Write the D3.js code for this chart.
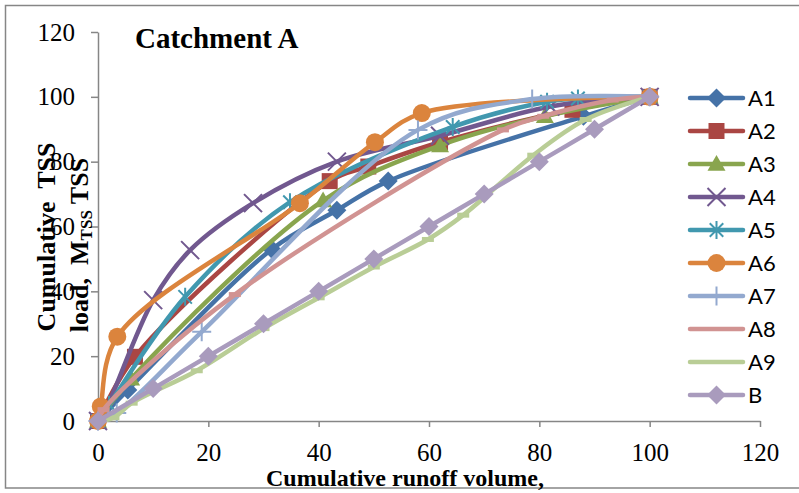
<!DOCTYPE html>
<html>
<head>
<meta charset="utf-8">
<script src="https://cdn.jsdelivr.net/npm/d3@7"></script>
<style>
  body { margin: 0; background: #fff; }
  svg { display: block; }
</style>
</head>
<body>
<svg id="chart" width="799" height="493"></svg>
<script>
// series names, in legend order
var seriesNames = ["A1", "A2", "A3", "A4", "A5", "A6", "A7", "A8", "A9", "B"];

// [cumulative runoff volume %, cumulative TSS load %]
var a1 = [[0, 0], [5.4, 9.6], [31.5, 53], [43.3, 65], [52.6, 74], [88, 94], [100, 100]];
var a2 = [[0, 0], [6.7, 19.8], [42, 74], [49, 78.5], [62, 86], [86, 96], [100, 100]];
var a3 = [[0, 0], [6, 13], [40.8, 68], [62, 85], [81, 94], [100, 100]];
var a4 = [[0, 0], [1.5, 4], [10, 37.3], [16.7, 52.7], [28.1, 67.2], [43.3, 80], [62, 88], [82, 97], [100, 100]];
var a5 = [[0, 0], [2, 5], [15.8, 38.3], [34.8, 67.5], [64.3, 90.7], [81.4, 98.5], [87, 99.5], [100, 100]];
var a6 = [[0, 0], [0.5, 4.5], [3.5, 26], [36.6, 67.2], [50.2, 86], [58.7, 95], [100, 100]];
var a7 = [[0, 0], [3.4, 2.5], [18.8, 27.5], [58, 89.8], [78.7, 99.3], [100, 100]];
var a8 = [[0, 0], [1, 3.5], [24.8, 39], [73.4, 89.8], [80.7, 94], [93.3, 99], [100, 100]];
var a9 = [[0, 0], [2.8, 1], [6.1, 5.5], [17.9, 15.5], [30, 28.5], [40, 38], [50, 47.5], [59.8, 56], [66.2, 63.5], [78.9, 82], [88.4, 93], [100, 100]];
var b = [[0, 0], [10, 10], [20, 20], [30, 30], [40, 40], [50, 50], [60, 60], [70, 70], [80, 80], [90, 90], [100, 100]];

var xTicks = [0, 20, 40, 60, 80, 100, 120];
var yTicks = [0, 20, 40, 60, 80, 100, 120];

var seriesData = [a1, a2, a3, a4, a5, a6, a7, a8, a9, b];
var colors = ["#4572A7", "#AA4643", "#89A54E", "#71588F", "#4198AF", "#DB843D", "#93A9CF", "#D19392", "#B9CD96", "#A99BBD"];
var markers = ["diamond", "square", "triangle", "x", "star", "circle", "plus", "dash", "dash", "diamond"];

var svg = d3.select("#chart");
var serif = "'Liberation Serif', 'Times New Roman', serif";

// outer frame
svg.append("rect")
    .attr("x", 5.5).attr("y", 5.5)
    .attr("width", 800).attr("height", 482.5)
    .attr("fill", "none")
    .attr("stroke", "#868686")
    .attr("stroke-width", 1.5);

var x = d3.scaleLinear().domain([0, 120]).range([98, 760]);
var y = d3.scaleLinear().domain([0, 120]).range([421, 32]);

// axes
var xAxis = svg.append("g")
    .attr("transform", "translate(0," + y(0) + ")")
    .call(d3.axisBottom(x).tickValues(xTicks).tickSize(6).tickSizeOuter(0));
xAxis.selectAll("text").attr("dy", null).attr("y", 40);

var yAxis = svg.append("g")
    .attr("transform", "translate(" + x(0) + ",0)")
    .call(d3.axisLeft(y).tickValues(yTicks).tickSize(7).tickPadding(16).tickSizeOuter(0));

[xAxis, yAxis].forEach(function (ax) {
    ax.select(".domain").attr("stroke", "#868686").attr("stroke-width", 1.5);
    ax.selectAll(".tick line").attr("stroke", "#868686").attr("stroke-width", 1.5);
    ax.selectAll("text")
        .attr("fill", "#000")
        .style("font-family", serif)
        .style("font-size", "25px");
});

// marker shapes
function markerPath(type, r) {
    switch (type) {
        case "diamond": return "M0," + (-r) + "L" + r + ",0L0," + r + "L" + (-r) + ",0Z";
        case "square": return "M" + (-r) + "," + (-r) + "H" + r + "V" + r + "H" + (-r) + "Z";
        case "triangle": return "M0," + (-r) + "L" + r + "," + (r * 0.75) + "L" + (-r) + "," + (r * 0.75) + "Z";
        case "x": return "M" + (-r) + "," + (-r) + "L" + r + "," + r + "M" + (-r) + "," + r + "L" + r + "," + (-r);
        case "star": return "M" + (-r * 0.75) + "," + (-r * 0.75) + "L" + (r * 0.75) + "," + (r * 0.75) +
            "M" + (-r * 0.75) + "," + (r * 0.75) + "L" + (r * 0.75) + "," + (-r * 0.75) + "M0," + (-r) + "V" + r;
        case "plus": return "M" + (-r) + ",0H" + r + "M0," + (-r) + "V" + r;
        case "dash": return "M-6,-2.5H6V2.5H-6Z";
    }
    return "";
}
var markerSize = { diamond: 9.5, square: 8, triangle: 9, x: 9, star: 9, plus: 9.5, dash: 6 };

function drawMarker(g, type, color, cx, cy) {
    if (type == "circle") {
        g.append("circle").attr("cx", cx).attr("cy", cy).attr("r", 9).attr("fill", color);
        return;
    }
    var stroked = (type == "x" || type == "star" || type == "plus");
    g.append("path")
        .attr("d", markerPath(type, markerSize[type]))
        .attr("transform", "translate(" + cx + "," + cy + ")")
        .attr("fill", stroked ? "none" : color)
        .attr("stroke", stroked ? color : "none")
        .attr("stroke-width", 2);
}

var line = d3.line()
    .x(function (d) { return x(d[0]); })
    .y(function (d) { return y(d[1]); })
    .curve(d3.curveCatmullRom.alpha(0.5));

var plot = svg.append("g");
seriesData.forEach(function (data, i) {
    var g = plot.append("g").attr("class", "series");
    g.append("path")
        .datum(data)
        .attr("d", line)
        .attr("fill", "none")
        .attr("stroke", colors[i])
        .attr("stroke-width", 4.5)
        .attr("stroke-linecap", "round")
        .attr("stroke-linejoin", "round");
    data.forEach(function (d) {
        drawMarker(g, markers[i], colors[i], x(d[0]), y(d[1]));
    });
});

// title
svg.append("text")
    .attr("x", 135).attr("y", 48)
    .style("font-family", serif)
    .style("font-size", "29px")
    .style("font-weight", "bold")
    .text("Catchment A");

// y axis title, two lines
svg.append("text")
    .attr("transform", "translate(55,237) rotate(-90)")
    .attr("text-anchor", "middle")
    .style("font-family", serif)
    .style("font-size", "26px")
    .style("font-weight", "bold")
    .style("white-space", "pre")
    .text("Cumulative  TSS");

var yt2 = svg.append("text")
    .attr("transform", "translate(88,245) rotate(-90)")
    .attr("text-anchor", "middle")
    .style("font-family", serif)
    .style("font-size", "26px")
    .style("font-weight", "bold")
    .style("white-space", "pre");
yt2.append("tspan").text("load,  M");
yt2.append("tspan").attr("dy", 4).style("font-size", "17px").text("TSS");
yt2.append("tspan").attr("dy", -4).text(" TSS");

// x axis title, sitting on the bottom of the frame
svg.append("text")
    .attr("x", 405).attr("y", 486)
    .attr("text-anchor", "middle")
    .style("font-family", serif)
    .style("font-size", "24px")
    .style("font-weight", "bold")
    .text("Cumulative runoff volume,");

// legend
var legend = svg.append("g")
    .selectAll("g")
    .data(seriesNames)
    .enter().append("g")
    .attr("transform", function (d, i) { return "translate(690," + (98 + i * 33) + ")"; });

legend.each(function (d, i) {
    var g = d3.select(this);
    g.append("line")
        .attr("x1", 0).attr("x2", 53)
        .attr("stroke", colors[i])
        .attr("stroke-width", 4.5)
        .attr("stroke-linecap", "round");
    if (markers[i] != "dash") drawMarker(g, markers[i], colors[i], 26.5, 0);
    g.append("text")
        .attr("x", 58).attr("dy", "0.36em")
        .style("font-family", "Lato, 'Open Sans', sans-serif")
        .style("font-size", "22px")
        .attr("fill", "#000")
        .text(d);
});
</script>
</body>
</html>
